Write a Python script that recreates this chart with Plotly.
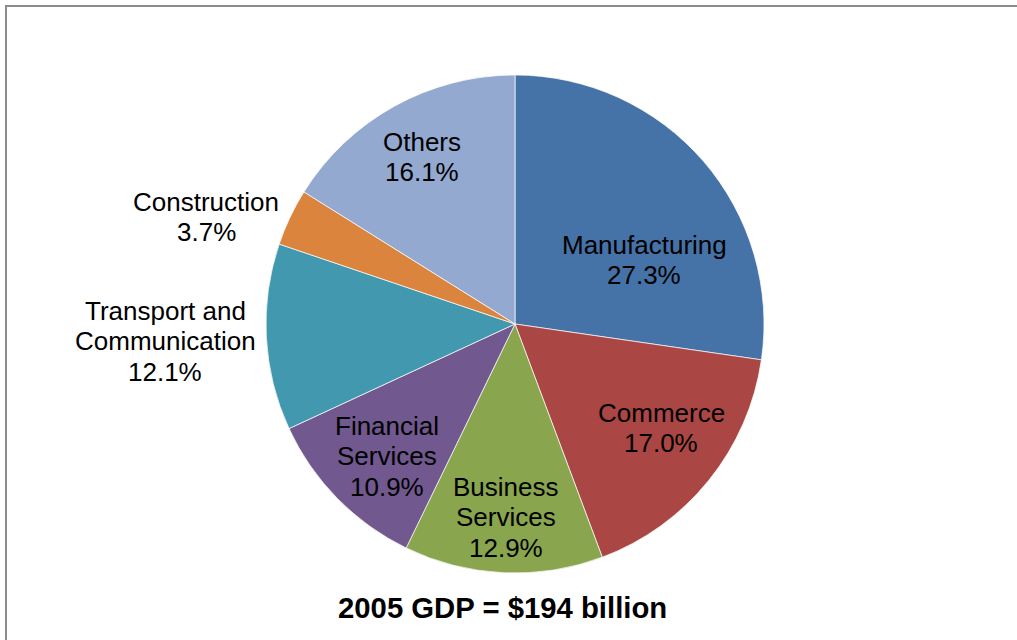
import plotly.graph_objects as go

# GDP composition by sector, 2005 (share of total, %)
sectors = ["Manufacturing", "Commerce", "Business Services", "Financial Services",
           "Transport and Communication", "Construction", "Others"]
shares = [27.3, 17.0, 12.9, 10.9, 12.1, 3.7, 16.1]
colors = ["#4572A7", "#AA4643", "#89A54E", "#71588F", "#4198AF", "#DB843D", "#93A9CF"]
# how each sector name wraps in its label
label_lines = [["Manufacturing"], ["Commerce"], ["Business", "Services"],
               ["Financial", "Services"], ["Transport and", "Communication"],
               ["Construction"], ["Others"]]
# label centres in pixels (x, y from top)
label_pos = [(644, 260), (661, 428), (506, 517), (387, 456),
             (165, 341), (206, 217), (422, 157)]
title_text = "2005 GDP = $194 billion"

W, H = 1017, 640
cx, cy, r = 515, 324, 249
line_step = 30.5

fig = go.Figure(go.Pie(
    labels=sectors,
    values=shares,
    sort=False,
    direction="clockwise",
    rotation=0,
    marker=dict(colors=colors, line=dict(color="rgba(255,255,255,0.7)", width=1)),
    textinfo="none",
    hoverinfo="label+percent",
    showlegend=False,
    domain=dict(x=[(cx - r) / W, (cx + r) / W],
                y=[(H - cy - r) / H, (H - cy + r) / H]),
))

font = dict(family="Liberation Sans, Arial, sans-serif", size=26, color="#000000")
for lines, val, (px, py) in zip(label_lines, shares, label_pos):
    rows = lines + [f"{val:.1f}%"]
    top = py - line_step * (len(rows) - 1) / 2
    for i, row in enumerate(rows):
        fig.add_annotation(
            text=row,
            x=px / W, y=1 - (top + i * line_step) / H, xref="paper", yref="paper",
            xanchor="center", yanchor="middle", showarrow=False,
            font=font,
        )

fig.add_annotation(
    text=f"<b>{title_text}</b>",
    x=502 / W, y=1 - 607 / H, xref="paper", yref="paper",
    xanchor="center", yanchor="middle", showarrow=False,
    font=dict(family="Liberation Sans, Arial, sans-serif", size=29.3, color="#000000"),
)

# chart frame (left and top edges visible)
frame = dict(color="#8c8c8c", width=2)
fig.add_shape(type="line", xref="paper", yref="paper",
              x0=6 / W, x1=6 / W, y0=0, y1=1 - 6 / H, line=frame)
fig.add_shape(type="line", xref="paper", yref="paper",
              x0=5 / W, x1=1, y0=1 - 6 / H, y1=1 - 6 / H, line=frame)

fig.update_layout(
    width=W, height=H,
    margin=dict(l=0, r=0, t=0, b=0),
    paper_bgcolor="#ffffff",
    plot_bgcolor="#ffffff",
)

fig.write_html("out.html")
